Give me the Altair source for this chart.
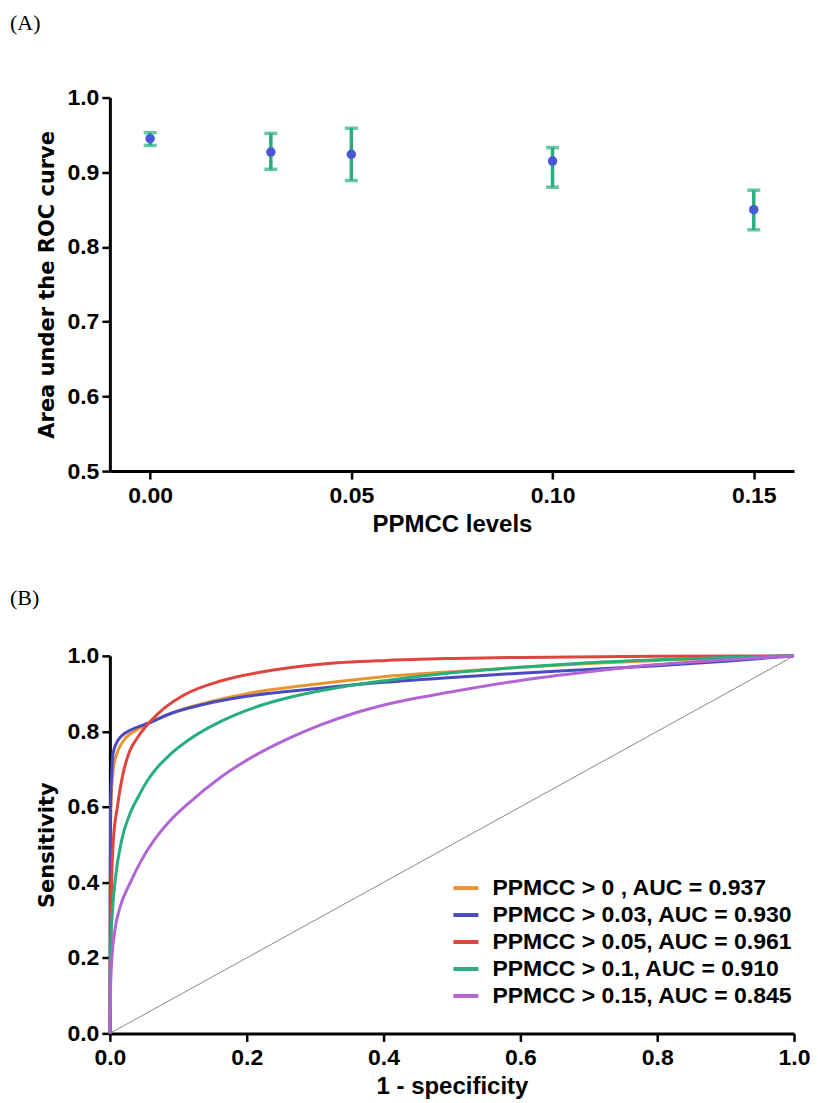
import altair as alt
import pandas as pd

# ---------------- Panel A data ----------------
ppmcc_levels = [0.00, 0.03, 0.05, 0.10, 0.15]
auc_mean = [0.945, 0.927, 0.924, 0.915, 0.850]
auc_low = [0.936, 0.904, 0.889, 0.880, 0.823]
auc_high = [0.953, 0.952, 0.959, 0.933, 0.876]

# ---------------- Panel B data ----------------
series_labels = [
    "PPMCC > 0 , AUC = 0.937",
    "PPMCC > 0.03, AUC = 0.930",
    "PPMCC > 0.05, AUC = 0.961",
    "PPMCC > 0.1, AUC = 0.910",
    "PPMCC > 0.15, AUC = 0.845",
]
series_colors = ["#E9952F", "#4B4BC0", "#E0443E", "#27AE7D", "#B266D5"]

orange_x = [0, 0.001, 0.003, 0.005, 0.01, 0.02, 0.04, 0.06, 0.1, 0.15, 0.2, 0.3, 0.4, 0.5, 0.6, 0.7, 0.8, 0.9, 1.0]
orange_y = [0, 0.55, 0.66, 0.70, 0.74, 0.775, 0.805, 0.825, 0.855, 0.88, 0.90, 0.925, 0.945, 0.958, 0.97, 0.98, 0.988, 0.995, 1.0]

blue_x = [0, 0.001, 0.003, 0.005, 0.01, 0.017, 0.032, 0.058, 0.09, 0.138, 0.2, 0.3, 0.4, 0.5, 0.6, 0.7, 0.8, 0.9, 1.0]
blue_y = [0, 0.60, 0.70, 0.745, 0.77, 0.788, 0.805, 0.823, 0.848, 0.872, 0.893, 0.913, 0.93, 0.943, 0.954, 0.964, 0.974, 0.986, 1.0]

red_x = [0, 0.002, 0.005, 0.011, 0.019, 0.029, 0.041, 0.058, 0.08, 0.109, 0.163, 0.23, 0.308, 0.405, 0.5, 0.6, 0.8, 1.0]
red_y = [0, 0.35, 0.51, 0.60, 0.686, 0.748, 0.785, 0.824, 0.862, 0.897, 0.934, 0.96, 0.978, 0.988, 0.993, 0.996, 0.999, 1.0]

green_x = [0, 0.001, 0.004, 0.008, 0.017, 0.03, 0.041, 0.055, 0.066, 0.09, 0.114, 0.163, 0.211, 0.26, 0.33, 0.405, 0.5, 0.6, 0.7, 0.8, 0.9, 1.0]
green_y = [0, 0.22, 0.33, 0.41, 0.51, 0.585, 0.625, 0.67, 0.697, 0.742, 0.776, 0.827, 0.863, 0.889, 0.915, 0.935, 0.955, 0.97, 0.982, 0.99, 0.996, 1.0]

purple_x = [0, 0.001, 0.003, 0.007, 0.015, 0.03, 0.045, 0.066, 0.09, 0.114, 0.163, 0.211, 0.26, 0.308, 0.357, 0.405, 0.5, 0.6, 0.7, 0.8, 0.9, 1.0]
purple_y = [0, 0.12, 0.20, 0.27, 0.335, 0.40, 0.455, 0.515, 0.567, 0.608, 0.68, 0.735, 0.78, 0.817, 0.848, 0.872, 0.905, 0.935, 0.958, 0.977, 0.99, 1.0]

diag_x = [0, 1]
diag_y = [0, 1]

a_ticks = [0.00, 0.05, 0.10, 0.15]
a_yticks = [0.5, 0.6, 0.7, 0.8, 0.9, 1.0]
b_ticks = [0.0, 0.2, 0.4, 0.6, 0.8, 1.0]

GREEN = "#27AE7D"
POINT = "#4A55D8"

W = 685
HA = 374
HB = 378
GAP = 185

# ---------------- Panel A ----------------
dfA = pd.DataFrame({"level": ppmcc_levels, "mean": auc_mean, "low": auc_low, "high": auc_high})

xA = alt.X("level:Q", scale=alt.Scale(domain=[-0.01, 0.16], nice=False, zero=False),
           axis=alt.Axis(values=a_ticks, format=".2f", title="PPMCC levels"))
yScaleA = alt.Scale(domain=[0.5, 1.0], nice=False, zero=False)
yAxisA = alt.Axis(values=a_yticks, format=".1f", title="Area under the ROC curve")

baseA = alt.Chart(dfA)
barsA = baseA.mark_rule(color=GREEN, strokeWidth=3.5).encode(
    x=xA, y=alt.Y("low:Q", scale=yScaleA, axis=yAxisA), y2="high:Q")
capLo = baseA.mark_tick(color=GREEN, thickness=3.5, size=13, orient="horizontal").encode(
    x=xA, y=alt.Y("low:Q", scale=yScaleA))
capHi = baseA.mark_tick(color=GREEN, thickness=3.5, size=13, orient="horizontal").encode(
    x=xA, y=alt.Y("high:Q", scale=yScaleA))
ptsA = baseA.mark_circle(size=90, color=POINT, opacity=1).encode(
    x=xA, y=alt.Y("mean:Q", scale=yScaleA))
labA = alt.Chart(pd.DataFrame({"t": ["(A)"]})).mark_text(
    font="Liberation Serif", fontSize=22, align="left", baseline="middle", color="black"
).encode(text="t:N", x=alt.value(-100), y=alt.value(-75))

panelA = alt.layer(barsA, capLo, capHi, ptsA, labA).properties(width=W, height=HA)

# ---------------- Panel B ----------------
rows = []
for lab, xs, ys in zip(series_labels,
                       [orange_x, blue_x, red_x, green_x, purple_x],
                       [orange_y, blue_y, red_y, green_y, purple_y]):
    for xv, yv in zip(xs, ys):
        rows.append({"series": lab, "fpr": xv, "tpr": yv})
dfB = pd.DataFrame(rows)
dfD = pd.DataFrame({"fpr": diag_x, "tpr": diag_y})

xScaleB = alt.Scale(domain=[0, 1], nice=False, zero=False)
yScaleB = alt.Scale(domain=[0, 1], nice=False, zero=False)

diag = alt.Chart(dfD).mark_line(color="#8a8a8a", strokeWidth=1).encode(
    x=alt.X("fpr:Q", scale=xScaleB,
            axis=alt.Axis(values=b_ticks, format=".1f", title="1 - specificity")),
    y=alt.Y("tpr:Q", scale=yScaleB,
            axis=alt.Axis(values=b_ticks, format=".1f", title="Sensitivity")))

curves = alt.Chart(dfB).mark_line(strokeWidth=3, interpolate="monotone").encode(
    x=alt.X("fpr:Q", scale=xScaleB),
    y=alt.Y("tpr:Q", scale=yScaleB),
    order=alt.Order("fpr:Q"),
    color=alt.Color("series:N",
                    scale=alt.Scale(domain=series_labels, range=series_colors),
                    sort=series_labels,
                    title=None,
                    legend=alt.Legend(orient="none", legendX=342, legendY=HA + GAP + 218,
                                      symbolType="stroke", symbolStrokeWidth=4,
                                      symbolSize=625, labelFont="Liberation Sans",
                                      labelFontSize=23, labelFontWeight="bold",
                                      labelColor="black", rowPadding=0,
                                      labelOffset=12, labelLimit=500)))
labB = alt.Chart(pd.DataFrame({"t": ["(B)"]})).mark_text(
    font="Liberation Serif", fontSize=22, align="left", baseline="middle", color="black"
).encode(text="t:N", x=alt.value(-100), y=alt.value(-58))

panelB = alt.layer(diag, curves, labB).properties(width=W, height=HB)

chart = alt.vconcat(panelA, panelB, spacing=GAP, bounds="flush").properties(
    autosize=alt.AutoSizeParams(type="pad"),
    padding={"left": 2, "top": 3, "right": 0, "bottom": 0},
).configure_view(strokeWidth=0).configure_axis(
    domainColor="black", domainWidth=3, tickColor="black", tickWidth=2.5, tickSize=8,
    labelFont="Liberation Sans", labelFontWeight="bold", labelFontSize=23,
    labelColor="black", labelPadding=3, labelFlush=False, labelOverlap=False,
    grid=False, titleColor="black",
).configure_axisX(
    titleFont="Liberation Sans", titleFontSize=24, titleFontWeight="bold", titlePadding=5,
    labelPadding=5,
).configure_axisY(
    titleFont="DejaVu Sans", titleFontSize=21, titleFontWeight="bold", titlePadding=9,
)

chart.save("out.html", embed_options={"renderer": "svg", "actions": False})
